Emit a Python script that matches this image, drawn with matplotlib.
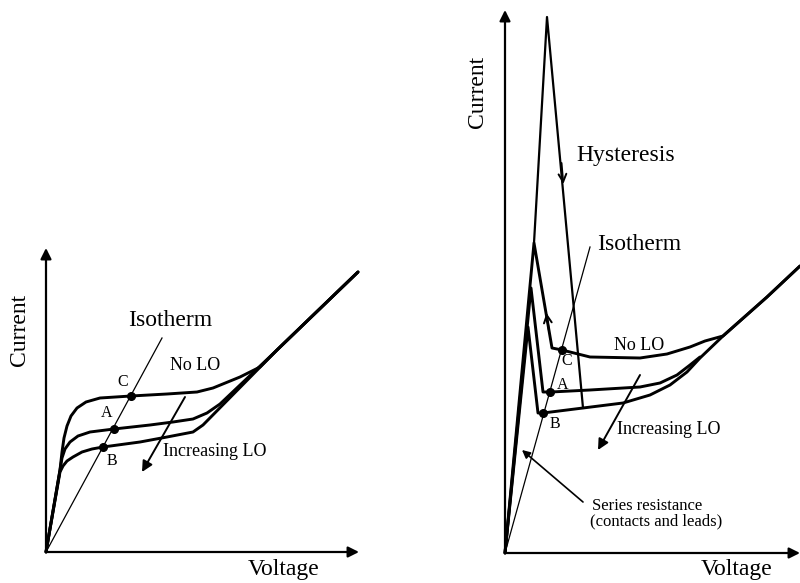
"""Sketch of bolometer I-V curves: isotherm, LO pumping, hysteresis.

Usage: python3 plot.py  -> out.png
"""
import matplotlib
matplotlib.use("Agg")
import matplotlib.pyplot as plt

plt.rcParams.update({
    "font.family": "Liberation Serif",
    "font.size": 13,
})

# Whole figure is one canvas in pixel units (x right, y down).
W, H = 800, 583

# ---- left panel: no hysteresis ----
left_origin = (46, 552)
left_yaxis_top = (46, 248)
left_xaxis_end = (359, 552)

left_nolo_x = [46, 60, 62, 64, 67, 71, 77, 86, 100, 131, 167, 197, 213, 240, 260, 277, 358]
left_nolo_y = [552, 470, 452, 438, 426, 416, 408, 402, 398, 396, 394, 392, 388, 377, 367, 350, 272]

left_a_x = [46, 60, 62, 65, 70, 78, 90, 114, 150, 173, 193, 207, 220, 277, 358]
left_a_y = [552, 470, 458, 449, 442, 436, 432, 429, 425, 422, 419, 413, 404, 350, 272]

left_b_x = [46, 60, 63, 67, 73, 82, 92, 103, 140, 167, 193, 203, 277, 358]
left_b_y = [552, 472, 466, 461, 457, 452, 449, 447, 442, 437, 432, 425, 350, 272]

left_iso_x = [46, 162]
left_iso_y = [552, 338]

left_pts = {"C": (131, 396), "A": (114, 429), "B": (103, 447)}
left_pt_labels = {"C": (123, 382), "A": (107, 413), "B": (112, 461)}
left_lo_arrow = [(185, 397), (142, 472)]

# ---- right panel: with hysteresis ----
right_origin = (505, 553)
right_yaxis_top = (505, 10)
right_xaxis_end = (800, 553)

right_nolo_x = [505, 534, 552, 562, 590, 640, 667, 690, 705, 723, 767, 800]
right_nolo_y = [553, 243, 348, 350, 357, 358, 354, 347, 341, 336, 297, 266]

right_a_x = [505, 531, 543, 551, 590, 640, 660, 677, 690, 700]
right_a_y = [553, 288, 392, 392, 390, 387, 383, 375, 365, 357]

right_b_x = [505, 528, 538, 543, 583, 623, 650, 670, 687, 700, 723, 767, 800]
right_b_y = [553, 327, 413, 413, 408, 403, 395, 385, 372, 358, 336, 297, 266]

hyst_x = [534, 547, 583]
hyst_y = [243, 17, 408]

right_iso_x = [505, 590]
right_iso_y = [553, 247]

right_pts = {"C": (562, 350), "A": (550, 392), "B": (543, 413)}
right_pt_labels = {"C": (567, 361), "A": (563, 385), "B": (555, 424)}
right_lo_arrow = [(640, 375), (598, 450)]
series_arrow = [(583, 502), (522, 450)]
hyst_down_arrow = [(561.5, 163), (563.3, 184)]
hyst_up_arrow = [(548.8, 330), (546.5, 313)]


def axis_arrow(ax, start, end):
    ax.annotate("", xy=end, xytext=start,
                arrowprops=dict(arrowstyle="-|>", lw=1.6, color="black",
                                mutation_scale=16, shrinkA=0, shrinkB=0))


def pointer(ax, start, end, style="-|>", lw=1.4, scale=16):
    ax.annotate("", xy=end, xytext=start,
                arrowprops=dict(arrowstyle=style, lw=lw, color="black",
                                mutation_scale=scale, shrinkA=0, shrinkB=0))


def curve(ax, x, y, lw=2.1):
    ax.plot(x, y, color="black", lw=lw, solid_joinstyle="round",
            solid_capstyle="round")


fig = plt.figure(figsize=(W / 100, H / 100), dpi=100)
ax = fig.add_axes([0, 0, 1, 1])
ax.set_xlim(0, W)
ax.set_ylim(H, 0)
ax.axis("off")

# left panel
axis_arrow(ax, left_origin, left_yaxis_top)
axis_arrow(ax, left_origin, left_xaxis_end)
curve(ax, left_nolo_x, left_nolo_y)
curve(ax, left_a_x, left_a_y)
curve(ax, left_b_x, left_b_y)
ax.plot(left_iso_x, left_iso_y, color="black", lw=0.9)
for k, (px, py) in left_pts.items():
    ax.plot(px, py, "o", color="black", ms=5.5)
    lx, ly = left_pt_labels[k]
    ax.text(lx, ly, k, ha="center", va="center", fontsize=11.5)
pointer(ax, *left_lo_arrow)
ax.text(19, 330, "Current", rotation=90, ha="center", va="center", fontsize=17)
ax.text(284, 570, "Voltage", ha="center", va="center", fontsize=17)
ax.text(170, 320, "Isotherm", ha="center", va="center", fontsize=17)
ax.text(195, 366, "No LO", ha="center", va="center", fontsize=13)
ax.text(215, 451, "Increasing LO", ha="center", va="center", fontsize=13)

# right panel
axis_arrow(ax, right_origin, right_yaxis_top)
axis_arrow(ax, right_origin, right_xaxis_end)
curve(ax, right_nolo_x, right_nolo_y)
curve(ax, right_a_x, right_a_y)
curve(ax, right_b_x, right_b_y)
curve(ax, hyst_x, hyst_y, lw=1.6)
ax.plot(right_iso_x, right_iso_y, color="black", lw=0.9)
for k, (px, py) in right_pts.items():
    ax.plot(px, py, "o", color="black", ms=5.5)
    lx, ly = right_pt_labels[k]
    ax.text(lx, ly, k, ha="center", va="center", fontsize=11.5)
pointer(ax, *right_lo_arrow)
pointer(ax, *series_arrow, lw=1.2, scale=12)
pointer(ax, *hyst_down_arrow, style="->", lw=1.4, scale=14)
pointer(ax, *hyst_up_arrow, style="->", lw=1.4, scale=14)
ax.text(478, 92, "Current", rotation=90, ha="center", va="center", fontsize=17)
ax.text(737, 570, "Voltage", ha="center", va="center", fontsize=17)
ax.text(626, 156, "Hysteresis", ha="center", va="center", fontsize=17)
ax.text(597, 244, "Isotherm", ha="left", va="center", fontsize=17)
ax.text(639, 345, "No LO", ha="center", va="center", fontsize=13)
ax.text(669, 429, "Increasing LO", ha="center", va="center", fontsize=13)
ax.text(592, 506, "Series resistance", ha="left", va="center", fontsize=12)
ax.text(590, 521, "(contacts and leads)", ha="left", va="center", fontsize=12)

fig.savefig("out.png", dpi=100, facecolor="white")
